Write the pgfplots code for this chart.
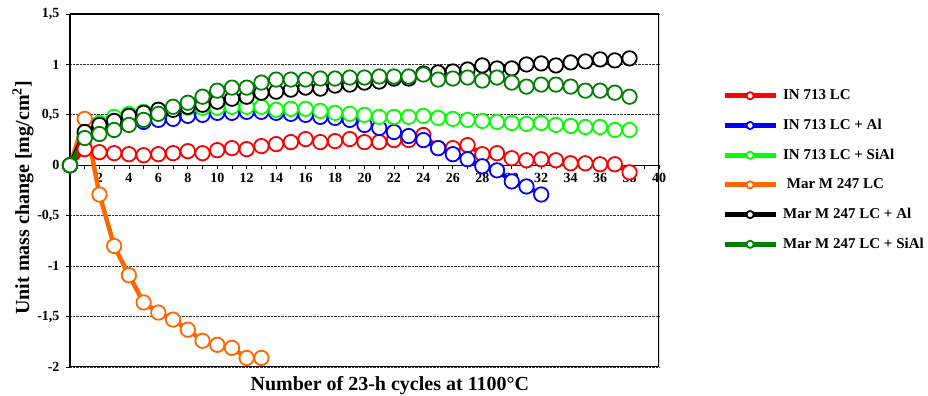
\documentclass[border=0pt]{standalone}
\usepackage{fontspec}
\setmainfont{Liberation Serif}
\usepackage{pgfplots}
\pgfplotsset{compat=1.18}
\definecolor{cRed}{RGB}{255,0,0}
\definecolor{cBlue}{RGB}{0,0,255}
\definecolor{cLime}{RGB}{0,255,0}
\definecolor{cOrange}{RGB}{255,102,0}
\definecolor{cDark}{RGB}{0,128,0}
\pgfplotsset{
  layers/labelsontop/.define layer set={axis background,axis grid,axis ticks,axis lines,pre main,main,axis tick labels,axis descriptions,axis foreground}{},
  ser/.style={color=#1, line width=4.5bp, mark=*, mark size=7.2bp,
    mark options={solid, fill=white, draw=#1, line width=1.8bp}},
}
\begin{document}
\begin{tikzpicture}
\begin{axis}[
  set layers=labelsontop,
  at={(70bp,29bp)}, anchor=south west,
  scale only axis, width=589bp, height=353bp,
  xmin=0, xmax=40, ymin=-2, ymax=1.5,
  axis x line=middle, axis y line=left,
  axis line style={-},
  x axis line style={line width=1.5bp},
  y axis line style={line width=2.5bp},
  xtick={0,2,...,40}, minor xtick={1,3,...,39},
  ytick={-2,-1.5,-1,-0.5,0,0.5,1,1.5},
  tick align=outside, major tick length=4bp, minor tick length=4bp,
  tick style={black, line width=0.8bp},
  ymajorgrids, grid style={densely dotted, black!80, line width=0.8bp},
  /pgf/number format/assume math mode=true,
  /pgf/number format/use comma,
  ticklabel style={font=\fontsize{14bp}{16bp}\selectfont\bfseries},
  yticklabel style={xshift=-3bp},
  xlabel={Number of 23-h cycles at 1100°C},
  ylabel={Unit mass change [mg/cm\textsuperscript{2}]},
  every axis x label/.style={at={(rel axis cs:0.543,-0.0255)}, anchor=north, inner sep=0pt, font=\fontsize{20bp}{24bp}\selectfont\bfseries},
  every axis y label/.style={at={(rel axis cs:-0.0798,0.479)}, rotate=90, anchor=center, inner sep=0pt, font=\fontsize{20bp}{24bp}\selectfont\bfseries},
  legend style={at={(1.1018,0.80)}, anchor=north west, draw=none, fill=none,
    font=\fontsize{15bp}{18bp}\selectfont\bfseries, row sep=11.7bp, column sep=3bp,
    nodes={text height=11bp, text depth=3bp, inner sep=2bp}},
  legend cell align=left,
  legend image code/.code={
    \draw[#1, mark=none, line width=5bp] (0bp,0bp) -- (51bp,0bp);
    \draw[#1, mark size=3.6bp] plot coordinates {(25.5bp,0bp)};
  },
]
\draw[line width=2.2bp] (rel axis cs:0,0) rectangle (rel axis cs:1,1);

\addplot[ser=cRed] coordinates {
(0,0) (1,0.16) (2,0.13) (3,0.12) (4,0.11) (5,0.10) (6,0.11) (7,0.12) (8,0.14) (9,0.12)
(10,0.15) (11,0.17) (12,0.16) (13,0.19) (14,0.21) (15,0.23) (16,0.26) (17,0.23) (18,0.24) (19,0.26)
(20,0.23) (21,0.23) (22,0.25) (23,0.25) (24,0.30) (25,0.17) (26,0.17) (27,0.20) (28,0.11) (29,0.12)
(30,0.07) (31,0.05) (32,0.06) (33,0.05) (34,0.02) (35,0.02) (36,0.01) (37,0.01) (38,-0.07)};
\addlegendentry{IN 713 LC}

\addplot[ser=cBlue] coordinates {
(0,0) (1,0.28) (2,0.38) (3,0.42) (4,0.44) (5,0.43) (6,0.45) (7,0.46) (8,0.49) (9,0.50)
(10,0.52) (11,0.52) (12,0.53) (13,0.53) (14,0.52) (15,0.51) (16,0.50) (17,0.48) (18,0.47) (19,0.45)
(20,0.40) (21,0.37) (22,0.33) (23,0.29) (24,0.25) (25,0.17) (26,0.11) (27,0.06) (28,-0.01) (29,-0.05)
(30,-0.16) (31,-0.21) (32,-0.29)};
\addlegendentry{IN 713 LC + Al}

\addplot[ser=cLime] coordinates {
(0,0) (1,0.30) (2,0.42) (3,0.48) (4,0.51) (5,0.53) (6,0.55) (7,0.57) (8,0.57) (9,0.57)
(10,0.57) (11,0.58) (12,0.58) (13,0.58) (14,0.55) (15,0.56) (16,0.56) (17,0.54) (18,0.52) (19,0.51)
(20,0.50) (21,0.48) (22,0.48) (23,0.48) (24,0.49) (25,0.47) (26,0.46) (27,0.45) (28,0.44) (29,0.43)
(30,0.42) (31,0.41) (32,0.42) (33,0.40) (34,0.39) (35,0.38) (36,0.38) (37,0.35) (38,0.35)};
\addlegendentry{IN 713 LC + SiAl}

\addplot[ser=cOrange] coordinates {
(0,0) (1,0.46) (2,-0.29) (3,-0.80) (4,-1.09) (5,-1.36) (6,-1.46) (7,-1.53) (8,-1.63) (9,-1.74)
(10,-1.78) (11,-1.81) (12,-1.91) (13,-1.91)};
\addlegendentry{\ Mar M 247 LC}

\addplot[ser=black] coordinates {
(0,0) (1,0.33) (2,0.40) (3,0.44) (4,0.49) (5,0.52) (6,0.55) (7,0.55) (8,0.58) (9,0.60)
(10,0.63) (11,0.66) (12,0.68) (13,0.72) (14,0.73) (15,0.75) (16,0.77) (17,0.76) (18,0.79) (19,0.80)
(20,0.82) (21,0.83) (22,0.86) (23,0.86) (24,0.91) (25,0.92) (26,0.93) (27,0.95) (28,0.99) (29,0.96)
(30,0.96) (31,1.00) (32,1.01) (33,0.99) (34,1.02) (35,1.03) (36,1.05) (37,1.04) (38,1.06)};
\addlegendentry{Mar M 247 LC + Al}

\addplot[ser=cDark] coordinates {
(0,0) (1,0.27) (2,0.31) (3,0.35) (4,0.40) (5,0.45) (6,0.51) (7,0.58) (8,0.62) (9,0.68)
(10,0.74) (11,0.77) (12,0.77) (13,0.82) (14,0.85) (15,0.85) (16,0.85) (17,0.86) (18,0.86) (19,0.87)
(20,0.87) (21,0.88) (22,0.88) (23,0.88) (24,0.90) (25,0.85) (26,0.86) (27,0.87) (28,0.84) (29,0.87)
(30,0.82) (31,0.78) (32,0.80) (33,0.80) (34,0.78) (35,0.74) (36,0.74) (37,0.72) (38,0.68)};
\addlegendentry{Mar M 247 LC + SiAl}
\end{axis}
\pgfresetboundingbox
\useasboundingbox (0,0) rectangle (928bp,396bp);
\end{tikzpicture}
\end{document}
